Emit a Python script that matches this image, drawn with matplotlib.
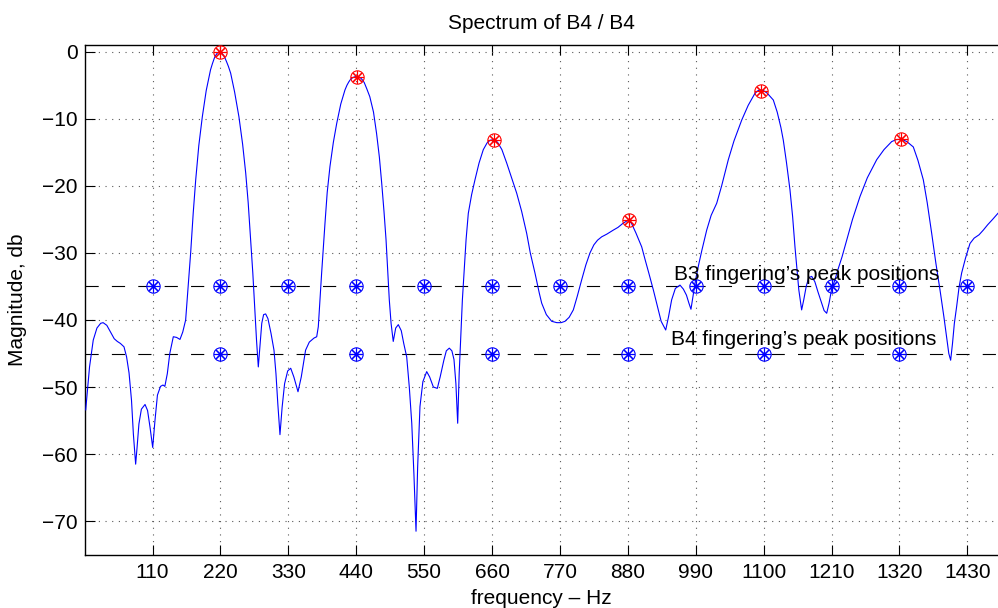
import matplotlib
matplotlib.use("Agg")
import matplotlib.pyplot as plt

plt.rcParams['font.family'] = ['Liberation Sans', 'DejaVu Sans']
plt.rcParams['lines.scale_dashes'] = False

# Spectrum trace (frequency Hz, magnitude dB)
spec_f = [1.8, 8, 14, 20, 26, 30, 36, 42, 48, 53, 58, 63.8, 68, 72, 76, 79, 82.7, 85, 88, 92,
          97.9, 102, 106, 110.3, 114, 118, 123, 127, 130, 134, 138, 143.7, 149, 154.5, 159, 163.7,
          167, 171.8, 176, 180, 185, 190.7, 197, 204, 207, 210, 212, 215, 217, 219, 221, 224,
          227, 230, 233, 236.6, 243, 250,
          256, 261, 265, 269, 272.5, 275.5, 278.5, 281.4, 284, 287, 290, 293.3, 297, 302, 306.8,
          310, 313, 316.5, 320, 324, 329, 333.9, 339, 345.7, 351, 358, 364, 371.6, 376, 378.6,
          381, 384, 389.4, 393, 397.5, 403, 408.4, 415, 421.8, 425, 428, 431, 434, 437, 440.7,
          444, 447, 450, 453, 457, 462,
          468, 473, 477.5, 481.3, 485, 488.3, 491, 493.6, 496.5, 500, 504, 508.2, 513, 517,
          521.8, 526, 530, 533.5, 536.9, 539.5, 543.3, 548, 554.2, 559, 565, 571.4, 576, 582,
          586, 590.8, 595, 598.4, 601.5, 604.4, 606.8, 609.2, 612, 614.6, 618, 621.6, 627,
          632.4, 639, 645.9, 652, 657, 663.2, 669, 676, 683.8, 691, 700, 708, 716.2, 722,
          729.6, 736.6, 740.5, 748, 756.7, 765, 772, 778.2, 785, 791.7, 798, 805.3, 812, 818.7,
          825, 831, 837.7, 846, 856.5, 864, 872, 880.8, 886, 893, 902.5, 908, 914, 921.3, 928,
          934, 941.4, 946, 951, 957, 964.5, 970, 975, 979, 982.3, 986, 990, 994.2, 1000,
          1007.8, 1015, 1024, 1032, 1042.8, 1052, 1064.5, 1075, 1086, 1091, 1095, 1100, 1106,
          1115.7, 1122, 1128, 1131.9, 1137, 1142.7, 1147, 1150.8, 1154, 1157, 1161.6, 1165,
          1169, 1173, 1177.9, 1183, 1188, 1194, 1198, 1202.2, 1206, 1210, 1215.6, 1220, 1227,
          1234.6, 1244, 1256.1, 1268, 1283.2, 1295, 1307.5, 1315, 1323.7, 1332, 1342.5, 1350,
          1358.7, 1365, 1372.3, 1379, 1385.7, 1392, 1397, 1400, 1403, 1406, 1409, 1412.7,
          1416.5, 1420.8, 1427, 1434.3, 1441, 1449, 1455.9, 1463, 1471, 1479.6]
spec_db = [-53.4, -47, -43, -41.2, -40.5, -40.4, -40.8, -41.8, -42.8, -43.2, -43.5, -44, -45.5,
           -47.9, -52, -57, -61.5, -59, -55.5, -53.3, -52.6, -53.5, -56, -59, -55, -51.2, -49.9,
           -49.7, -49.9, -48, -45, -42.5, -42.6, -42.9, -41.8, -40, -36, -30, -24, -19.1, -14,
           -9.7, -5.8, -2.7, -1.8, -1.0, -0.6, -0.2, -0.05, 0, -0.1, -0.4, -0.85, -1.5, -2.2,
           -3.2, -6, -9.7, -13.8, -18.1, -22.5, -28,
           -33, -38, -43, -47, -44, -40.5, -39.2, -39.1, -39.8, -42, -44.5, -48, -52.5, -57.1,
           -53, -49.5, -47.6, -47.2, -48.5, -50.7, -48.5, -44.5, -43.3, -42.7, -42.5, -41, -37.5,
           -33, -25.6, -21, -17.1, -13.5, -10.7, -7.8, -5.7, -5.0, -4.5, -4.1, -3.9, -3.75, -3.7,
           -3.75, -3.9, -4.2, -4.6, -5.5, -6.7,
           -9, -12.2, -15.7, -19.6, -23.8, -28, -32.5, -37, -40.5, -43.2, -41.2, -40.7, -41.6,
           -43.5, -45.5, -50, -55.4, -63, -71.5, -62, -52.9, -49.2, -47.7, -48.5, -50, -50.2,
           -48.5, -46, -44.6, -44.2, -44.6, -45.9, -49.5, -55.4, -48, -43, -37, -33, -28, -24.1,
           -21.3, -19.1, -16.6, -14.6, -13.6, -13.2, -13.1, -13.5, -14.6, -16.6, -18.6, -21.1,
           -23.8, -27.1, -30, -33, -36, -37.5, -39.2, -40.2, -40.4, -40.4, -40.2, -39.6, -38.5,
           -36.5, -34, -31.8, -30, -28.8, -28.1, -27.6, -27.2, -26.6, -26.2, -25.6, -25.1, -25.6,
           -27, -29.1, -31, -33, -35.5, -38, -40.2, -41.5, -39.5, -37, -35.3, -34.8, -35.4,
           -36.3, -37.5, -38.4, -36.2, -33.9, -32, -29.6, -26.6, -24.4, -22.6, -20, -16.1, -13.3,
           -10.2, -8, -6.2, -5.8, -5.7, -5.8, -6.2, -7.2, -9, -11.3, -13.2, -16.5, -20.6, -24.6,
           -29.1, -32.5, -35.5, -38.5, -37, -35, -33.7, -33.5, -34.3, -35.8, -37.5, -38.6, -39,
           -37.5, -35.5, -34, -32.6, -30.6, -28.1, -25, -21.6, -18.8, -16.1, -14.6, -13.4, -13.1,
           -13.05, -13.4, -14.2, -16.2, -19.1, -22.5, -27.1, -31.5, -35.5, -39.5, -43, -45, -46,
           -43.5, -40.5, -38, -35.2, -33, -30.8, -28.6, -27.8, -27.3, -26.6, -25.8, -25, -24.1]

# Detected spectral peaks (red)
peak_f = [219, 441, 663, 882, 1095, 1323]
peak_db = [0, -3.8, -13.1, -25.1, -5.8, -13.05]

# Fingering peak positions
b3_f = [110, 220, 330, 440, 550, 660, 770, 880, 990, 1100, 1210, 1320, 1430]
b3_level = -35
b4_f = [220, 440, 660, 880, 1100, 1320]
b4_level = -45

xticks = [110, 220, 330, 440, 550, 660, 770, 880, 990, 1100, 1210, 1320, 1430]
yticks = [0, -10, -20, -30, -40, -50, -60, -70]

W, H = 998, 608
fig = plt.figure(figsize=(W / 100, H / 100), dpi=100)
ax = fig.add_axes([84.6 / W, 53.3 / H, 913.4 / W, 509.7 / H])

ax.set_xlim(0, 1479.7)
ax.set_ylim(-75, 1)
ax.set_xticks(xticks)
ax.set_yticks(yticks)
ax.grid(True, linestyle=(0, (0.8, 4.0)), color='0.35', linewidth=0.8)
ax.tick_params(direction='in', length=7, width=0.8, top=True, right=False,
               labelsize=15, colors='k')
ax.tick_params(axis='x', pad=6)
ax.tick_params(axis='y', pad=5)
for s in ['left', 'top', 'bottom']:
    ax.spines[s].set_linewidth(1.0)
ax.spines['right'].set_visible(False)

ax.axhline(b3_level, color='k', lw=0.8, dashes=(9.5, 9.5), zorder=2)
ax.axhline(b4_level, color='k', lw=0.8, dashes=(9.5, 9.5), zorder=2)

ax.plot(spec_f, spec_db, color='b', lw=0.8, zorder=3)

def star_marks(xs, ys, col):
    ax.plot(xs, ys, ls='none', marker='o', ms=9.6, mfc='none', mec=col, mew=0.8, zorder=4)
    ax.plot(xs, ys, ls='none', marker=(8, 2, 0), ms=9.2, mec=col, mew=0.8, zorder=4)

star_marks(b3_f, [b3_level] * len(b3_f), 'b')
star_marks(b4_f, [b4_level] * len(b4_f), 'b')
star_marks(peak_f, peak_db, 'r')

ax.text(955, -34.1, "B3 fingering\u2019s peak positions", fontsize=15, va='baseline', ha='left', zorder=5)
ax.text(950, -43.7, "B4 fingering\u2019s peak positions", fontsize=15, va='baseline', ha='left', zorder=5)

fig.text(541 / W, 1 - 29 / H, "Spectrum of B4 / B4", fontsize=15, ha='center', va='baseline')
fig.text(541 / W, 1 - 604 / H, "frequency \u2013 Hz", fontsize=15, ha='center', va='baseline')
fig.text(18 / W, 1 - 300 / H, "Magnitude, db", fontsize=15, ha='center', va='center', rotation=90)

fig.savefig("out.png", dpi=100)
